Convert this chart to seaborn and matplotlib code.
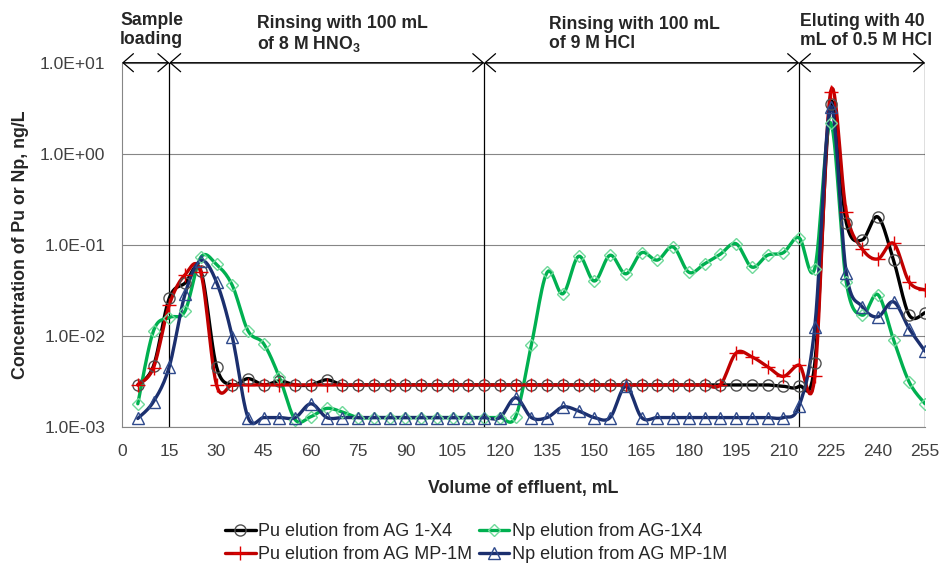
import numpy as np
import pandas as pd
import matplotlib
matplotlib.use("Agg")
import matplotlib.pyplot as plt
import seaborn as sns
from matplotlib.lines import Line2D
from matplotlib.ticker import FixedLocator, FuncFormatter, NullLocator

sns.set_style("white")
plt.rcParams["font.family"] = ["Liberation Sans", "DejaVu Sans"]
plt.rcParams["mathtext.fontset"] = "custom"
plt.rcParams["mathtext.rm"] = "Liberation Sans"
plt.rcParams["mathtext.bf"] = "Liberation Sans:bold"

# 流出体积 (mL)，每 5 mL 一个点
volume = list(range(5, 260, 5))

# 各系列浓度 (ng/L)
pu_ag1x4 = ([0.0029, 0.0047, 0.026, 0.038, 0.052, 0.0046, 0.0029, 0.0034, 0.0029,
             0.0032, 0.0029, 0.0029, 0.0033]
            + [0.0029] * 28
            + [0.0028, 0.0028, 0.005, 3.5, 0.175, 0.113, 0.203, 0.068, 0.0169, 0.018])

pu_mp1m = ([0.0029, 0.0045, 0.022, 0.047, 0.05, 0.0029]
           + [0.0029] * 32
           + [0.0065, 0.0059, 0.0046, 0.0036, 0.0048, 0.0036,
              4.8, 0.23, 0.091, 0.07, 0.104, 0.039, 0.032])

np_ag1x4 = ([0.0018, 0.0114, 0.0159, 0.0188, 0.073, 0.061, 0.036, 0.0114, 0.0082,
             0.0035, 0.0012, 0.0013, 0.0016, 0.00146]
            + [0.00127] * 10
            + [0.0013, 0.008, 0.05, 0.029, 0.075, 0.04, 0.077, 0.048, 0.082, 0.068,
               0.095, 0.05, 0.062, 0.079, 0.103, 0.057, 0.077, 0.082, 0.12, 0.055,
               2.2, 0.039, 0.0169, 0.0285, 0.0091, 0.0031, 0.0018])

np_mp1m = ([0.00124, 0.0019, 0.0046, 0.0287, 0.067, 0.039, 0.0098, 0.00127,
            0.00127, 0.00127, 0.00127, 0.0018]
           + [0.00127] * 12
           + [0.0021, 0.00127, 0.00127, 0.00166, 0.0015, 0.00127, 0.00127, 0.0028]
           + [0.00127] * 10
           + [0.0017, 0.0126, 3.3, 0.049, 0.021, 0.0162, 0.0237, 0.012, 0.0068])

labels = ["Pu elution from AG 1-X4", "Pu elution from AG MP-1M",
          "Np elution from AG-1X4", "Np elution from AG MP-1M"]

# 阶段分界 (mL) 与说明
phase_bounds = [0, 15, 115, 215, 255]
phase_texts = ["Sample\nloading",
               "Rinsing with 100 mL\nof 8 M HNO$_\\mathbf{3}$",
               "Rinsing with 100 mL\nof 9 M HCl",
               "Eluting with 40\nmL of 0.5 M HCl"]
phase_text_px = [(120, 12), (257, 15), (549, 16), (800, 13)]

series = [
    # 名称, 数据, 线色, 标记, 标记边色
    (labels[0], pu_ag1x4, "#000000", "o", "#505050"),
    (labels[2], np_ag1x4, "#00B050", "D", "#6FD99A"),
    (labels[1], pu_mp1m, "#C00000", "+", "#E00000"),
    (labels[3], np_mp1m, "#1B2F6E", "^", "#2F4A8C"),
]
msizes = {"o": 8, "D": 6, "+": 10, "^": 8}


def smooth(xs, ys, n=12):
    """类似 Excel 平滑线：在对数空间里做 Catmull-Rom 贝塞尔"""
    x = np.asarray(xs, float)
    y = np.log10(np.asarray(ys, float))
    px = np.concatenate([[x[0]], x, [x[-1]]])
    py = np.concatenate([[y[0]], y, [y[-1]]])
    t = np.linspace(0, 1, n + 1)[1:]
    ox, oy = [x[0]], [y[0]]
    for i in range(1, len(px) - 2):
        p0 = np.array([px[i - 1], py[i - 1]])
        p1 = np.array([px[i], py[i]])
        p2 = np.array([px[i + 1], py[i + 1]])
        p3 = np.array([px[i + 2], py[i + 2]])
        b1 = p1 + (p2 - p0) / 6
        b2 = p2 - (p3 - p1) / 6
        for tt in t:
            pt = ((1 - tt) ** 3) * p1 + 3 * ((1 - tt) ** 2) * tt * b1 \
                + 3 * (1 - tt) * tt ** 2 * b2 + tt ** 3 * p2
            ox.append(pt[0])
            oy.append(pt[1])
    return np.array(ox), 10 ** np.array(oy)


fig = plt.figure(figsize=(9.41, 5.67), dpi=100)
ax = fig.add_axes([0.1297, 0.2469, 0.8533, 0.6425])
ax.set_yscale("log")

for name, vals, col, mk, ec in series:
    sx, sy = smooth(volume, vals)
    sns.lineplot(x=sx, y=sy, ax=ax, color=col, lw=2.4, sort=False,
                 estimator=None, zorder=3)
    df = pd.DataFrame({"volume": volume, "conc": vals})
    sns.lineplot(data=df, x="volume", y="conc", ax=ax, estimator=None,
                 linestyle="none", marker=mk, markersize=msizes[mk],
                 markerfacecolor="none", markeredgecolor=ec,
                 markeredgewidth=1.0, zorder=4)

ax.set_xlim(0, 255)
ax.set_ylim(1e-3, 10)
ax.xaxis.set_major_locator(FixedLocator(list(range(0, 256, 15))))
ax.yaxis.set_major_locator(FixedLocator([1e-3, 1e-2, 1e-1, 1e0, 1e1]))
ax.yaxis.set_minor_locator(NullLocator())
ax.yaxis.set_major_formatter(FuncFormatter(lambda v, _: f"{v:.1E}"))
ax.tick_params(axis="both", direction="out", length=5, width=0.8,
               color="#868686", labelsize=12.6, labelcolor="#404040")
ax.tick_params(axis="y", pad=7)
ax.tick_params(axis="x", pad=7)
ax.grid(axis="y", color="#868686", lw=0.8)
ax.grid(axis="x", visible=False)
for s in ["top", "right"]:
    ax.spines[s].set_visible(False)
for s in ["left", "bottom"]:
    ax.spines[s].set_color("#868686")
    ax.spines[s].set_linewidth(0.8)

# 阶段竖线和顶部双箭头
for b in phase_bounds[1:]:
    ax.axvline(b, color="black", lw=0.9, zorder=2)
for a, b in zip(phase_bounds[:-1], phase_bounds[1:]):
    ax.annotate("", xy=(b, 10), xytext=(a, 10), xycoords="data",
                annotation_clip=False,
                arrowprops=dict(arrowstyle="<->,head_length=0.75,head_width=0.65",
                                color="black", lw=0.9, shrinkA=0, shrinkB=0))
for txt, (px, py) in zip(phase_texts, phase_text_px):
    fig.text(px / 941, 1 - py / 567, txt, ha="left", va="top", fontsize=12.7,
             fontweight="bold", linespacing=1.15)

ax.set_xlabel("Volume of effluent, mL", fontsize=12.8, fontweight="bold")
ax.set_ylabel("Concentration of Pu or Np, ng/L", fontsize=12.8, fontweight="bold")
ax.xaxis.set_label_coords(0.5, -0.146)
ax.yaxis.set_label_coords(-0.116, 0.5)

# 图例（按列填充：左列 Pu，右列 Np）
handles = []
for i in [0, 2, 1, 3]:
    name, vals, col, mk, ec = series[i]
    handles.append(Line2D([0], [0], color=col, lw=2.4, marker=mk,
                          markersize=msizes[mk], markerfacecolor="none",
                          markeredgecolor=ec, markeredgewidth=1.0, label=name))
fig.legend(handles=handles, ncol=2, loc="center", bbox_to_anchor=(0.506, 0.042),
           frameon=False, fontsize=13, handlelength=1.7, handletextpad=0.15,
           columnspacing=0.35, labelspacing=0.3, borderaxespad=0, borderpad=0)

fig.savefig("out.png", dpi=100)
